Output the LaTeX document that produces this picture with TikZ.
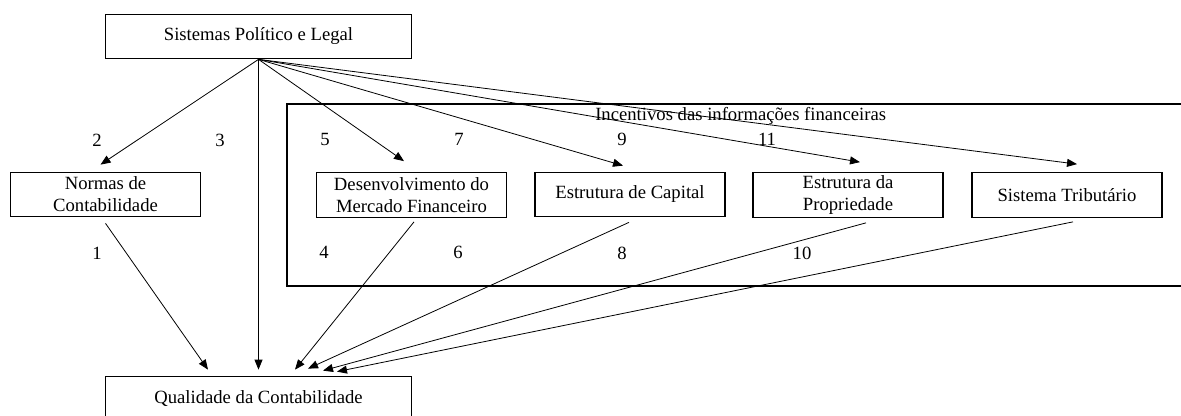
\documentclass[tikz,border=0pt]{standalone}
\usepackage{fontspec}
\setmainfont{Liberation Serif}
\usetikzlibrary{arrows.meta}
\newcommand{\txtsize}{\fontsize{14}{16.5}\selectfont}

\tikzset{
  caixa/.style={draw, line width=0.8pt, minimum width=142.5pt, minimum height=33.5pt,
    inner sep=0pt, align=center, font=\txtsize},
  seta/.style={-{Triangle[length=7.5pt,width=6pt]}, line width=0.6pt},
  rotulo/.style={inner sep=0pt, font=\txtsize}
}

\begin{document}
\begin{tikzpicture}[x=0.75pt, y=-0.75pt]
\useasboundingbox (0,0) rectangle (1181,416);
\clip (0,0) rectangle (1181,416);
% quadro dos incentivos
\draw[line width=0.8pt] (287,104) rectangle (1190,286);
\node[rotulo, anchor=west] (incent) at (595,116) {Incentivos das informações financeiras};
% caixas
\node[caixa, minimum width=230pt] (sist) at (258.5, 36.5) {Sistemas Político e Legal};
\node[caixa] (norm) at (105.5, 194.5) {Normas de\\Contabilidade};
\node[caixa] (merc) at (411.5, 195) {Desenvolvimento do\\Mercado Financeiro};
\node[caixa] (cap) at (630, 194.5) {Estrutura de Capital};
\node[caixa] (prop) at (848, 195) {Estrutura da\\Propriedade};
\node[caixa] (trib) at (1067, 195) {Sistema Tributário};
\node[caixa, minimum width=230pt] (qual) at (258.5, 398.5) {Qualidade da Contabilidade};
% rotulos
\node[rotulo] (l1) at (97, 253) {1};
\node[rotulo] (l2) at (97, 140) {2};
\node[rotulo] (l3) at (220, 140) {3};
\node[rotulo] (l4) at (324, 252) {4};
\node[rotulo] (l5) at (325, 139) {5};
\node[rotulo] (l6) at (458, 252) {6};
\node[rotulo] (l7) at (459, 139) {7};
\node[rotulo] (l8) at (622, 253) {8};
\node[rotulo] (l9) at (622, 139) {9};
\node[rotulo] (l10) at (802, 253) {10};
\node[rotulo] (l11) at (767, 139) {11};
% setas de cima
\draw[seta] (sist.south) -- ([shift={(-5,-7)}]norm.north);
\draw[seta] (sist.south) -- ([shift={(0,-6)}]qual.north);
\draw[seta] (sist.south) -- ([shift={(-7.5,-11)}]merc.north);
\draw[seta] (sist.south) -- ([shift={(-7,-6)}]cap.north);
\draw[seta] (sist.south) -- ([shift={(12,-10)}]prop.north);
\draw[seta] (sist.south) -- ([shift={(10,-8)}]trib.north);
% setas para a qualidade
\draw[seta] ([shift={(0,6)}]norm.south) -- ([shift={(-50.5,-6)}]qual.north);
\draw[seta] ([shift={(2.5,4)}]merc.south) -- ([shift={(36.5,-6)}]qual.north);
\draw[seta] ([shift={(-1,5)}]cap.south) -- ([shift={(49.5,-7)}]qual.north);
\draw[seta] ([shift={(18,5)}]prop.south) -- ([shift={(64.5,-5)}]qual.north);
\draw[seta] ([shift={(6,4)}]trib.south) -- ([shift={(78.5,-4)}]qual.north);
\end{tikzpicture}
\end{document}
